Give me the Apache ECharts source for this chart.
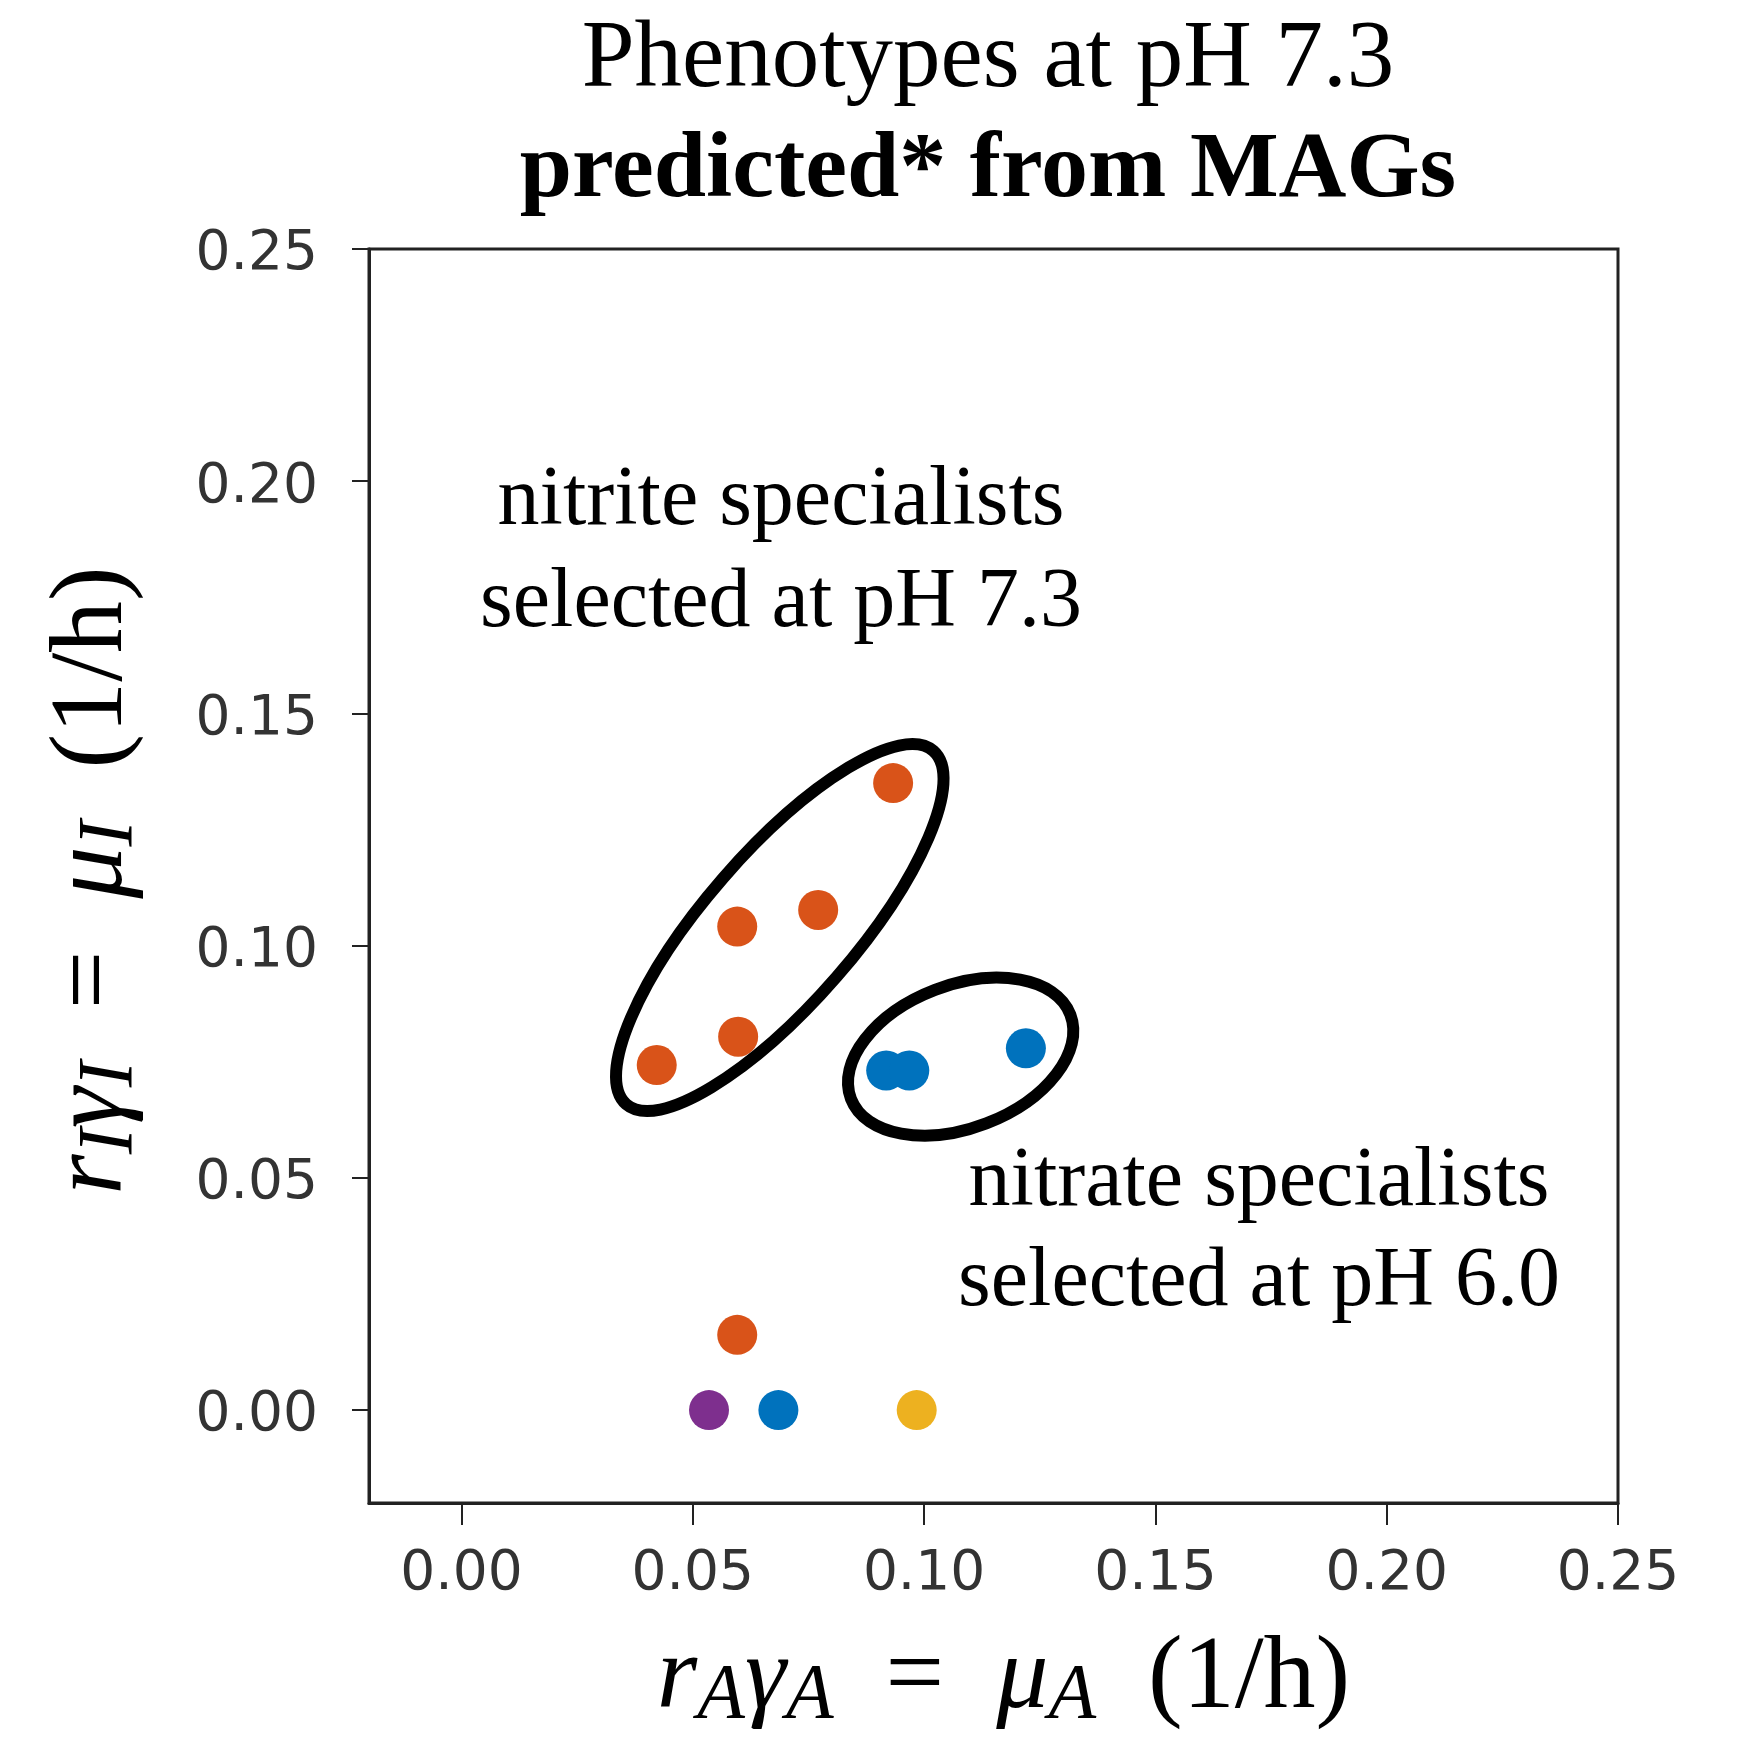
<!DOCTYPE html>
<html>
<head>
<meta charset="utf-8">
<title>Phenotypes at pH 7.3</title>
<script src="https://cdn.jsdelivr.net/npm/echarts@6/dist/echarts.min.js"></script>
<style>
  html, body { margin: 0; padding: 0; background: #fff; }
  #chart { width: 1737px; height: 1741px; }
</style>
</head>
<body>
<div id="chart"></div>
<script>
// Growth-rate phenotypes (1/h): nitrate axis (x) vs nitrite axis (y)
const orangeX = [0.0933, 0.0771, 0.0596, 0.0598, 0.0422, 0.0596];
const orangeY = [0.1350, 0.1077, 0.1041, 0.0804, 0.0743, 0.0162];
const blueX = [0.0918, 0.0968, 0.1220, 0.0685];
const blueY = [0.0731, 0.0731, 0.0779, 0.0000];
const purpleX = [0.0535];
const purpleY = [0.0000];
const yellowX = [0.0984];
const yellowY = [0.0000];

// Axis ticks
const tickValues = [0.00, 0.05, 0.10, 0.15, 0.20, 0.25];

// Ovals grouping the two specialist clusters: centre x, centre y, semi-axes, tilt (deg)
const groupCentreX = [0.0688, 0.1079];
const groupCentreY = [0.1039, 0.0761];
const groupSemiMajor = [0.0506, 0.0254];
const groupSemiMinor = [0.0162, 0.0154];
const groupTilt = [49, 21];

const zip = (xs, ys) => xs.map((x, i) => [x, ys[i]]);

const chart = echarts.init(document.getElementById('chart'), null, { renderer: 'canvas' });

const serif = '"Liberation Serif", "DejaVu Serif", serif';
const mathRich = {
  i: { fontFamily: serif, fontStyle: 'italic', fontSize: 104, lineHeight: 130, color: '#000' },
  s: { fontFamily: serif, fontStyle: 'italic', fontSize: 78, lineHeight: 78, padding: [32, 0, 0, 0], color: '#000' },
  n: { fontFamily: serif, fontSize: 104, lineHeight: 130, color: '#000' }
};

const dotSeries = (name, xs, ys, color) => ({
  name: name,
  type: 'scatter',
  data: zip(xs, ys),
  symbol: 'circle',
  symbolSize: 40,
  itemStyle: { color: color, opacity: 1 },
  emphasis: { disabled: true },
  z: 2
});

const tickFont = { fontFamily: '"DejaVu Sans", sans-serif', fontSize: 55, color: '#333' };

chart.setOption({
  animation: false,
  backgroundColor: '#fff',
  grid: {
    left: 369, right: 119, top: 249, bottom: 238,
    outerBoundsMode: 'none',
    containLabel: false,
    show: true, borderColor: '#222', borderWidth: 3
  },
  xAxis: {
    type: 'value', min: -0.02, max: 0.25,
    axisLine: { show: true, onZero: false, lineStyle: { color: '#222', width: 3 } },
    axisTick: { show: true, length: 22, lineStyle: { color: '#222', width: 2 }, customValues: tickValues },
    axisLabel: Object.assign({
      customValues: tickValues,
      formatter: v => v.toFixed(2),
      margin: 44
    }, tickFont),
    splitLine: { show: false },
    name: '{i|r}{s|A}{i|γ}{s|A}{n|  =  }{i|μ}{s|A}{n|  (1/h)}',
    nameLocation: 'middle',
    nameGap: 112,
    nameTextStyle: { rich: mathRich, padding: [0, 0, 0, 20] }
  },
  yAxis: {
    type: 'value', min: -0.02, max: 0.25,
    axisLine: { show: true, onZero: false, lineStyle: { color: '#222', width: 3 } },
    axisTick: { show: true, length: 17, lineStyle: { color: '#222', width: 2 }, customValues: tickValues },
    axisLabel: Object.assign({
      customValues: tickValues,
      formatter: v => v.toFixed(2),
      margin: 51,
      verticalAlign: 'top',
      lineHeight: 12
    }, tickFont),
    splitLine: { show: false },
    name: '{i|r}{s|I}{i|γ}{s|I}{n|  =  }{i|μ}{s|I}{n|  (1/h)}',
    nameLocation: 'middle',
    nameRotate: 90,
    nameGap: 210,
    nameTextStyle: { rich: mathRich, padding: [0, 9, 0, 0] }
  },
  graphic: [
    { type: 'text', x: 988, y: 61, style: { text: 'Phenotypes at pH 7.3', font: '95px ' + serif, fill: '#000', align: 'center', verticalAlign: 'middle' } },
    { type: 'text', x: 988, y: 172, style: { text: 'predicted* from MAGs', font: 'bold 94px ' + serif, fill: '#000', align: 'center', verticalAlign: 'middle' } },
    { type: 'text', x: 781, y: 502, style: { text: 'nitrite specialists', font: '84px ' + serif, fill: '#000', align: 'center', verticalAlign: 'middle' } },
    { type: 'text', x: 781, y: 604, style: { text: 'selected at pH 7.3', font: '84px ' + serif, fill: '#000', align: 'center', verticalAlign: 'middle' } },
    { type: 'text', x: 1259, y: 1183, style: { text: 'nitrate specialists', font: '84px ' + serif, fill: '#000', align: 'center', verticalAlign: 'middle' } },
    { type: 'text', x: 1259, y: 1283, style: { text: 'selected at pH 6.0', font: '84px ' + serif, fill: '#000', align: 'center', verticalAlign: 'middle' } }
  ],
  series: [
    dotSeries('nitrite', orangeX, orangeY, '#D95319'),
    dotSeries('nitrate', blueX, blueY, '#0072BD'),
    dotSeries('other', purpleX, purpleY, '#7E2F8E'),
    dotSeries('ammonia', yellowX, yellowY, '#EDB120'),
    {
      name: 'groups',
      type: 'custom',
      data: groupCentreX.map((x, i) => [x, groupCentreY[i], groupSemiMajor[i], groupSemiMinor[i], groupTilt[i]]),
      renderItem: (params, api) => {
        const c = api.coord([api.value(0), api.value(1)]);
        const s = api.size([api.value(2), api.value(3)]);
        return {
          type: 'ellipse',
          x: c[0], y: c[1],
          rotation: api.value(4) * Math.PI / 180,
          shape: { cx: 0, cy: 0, rx: s[0], ry: s[1] },
          style: { fill: 'none', stroke: '#000', lineWidth: 12 }
        };
      },
      silent: true,
      z: 5
    }
  ]
});
</script>
</body>
</html>
